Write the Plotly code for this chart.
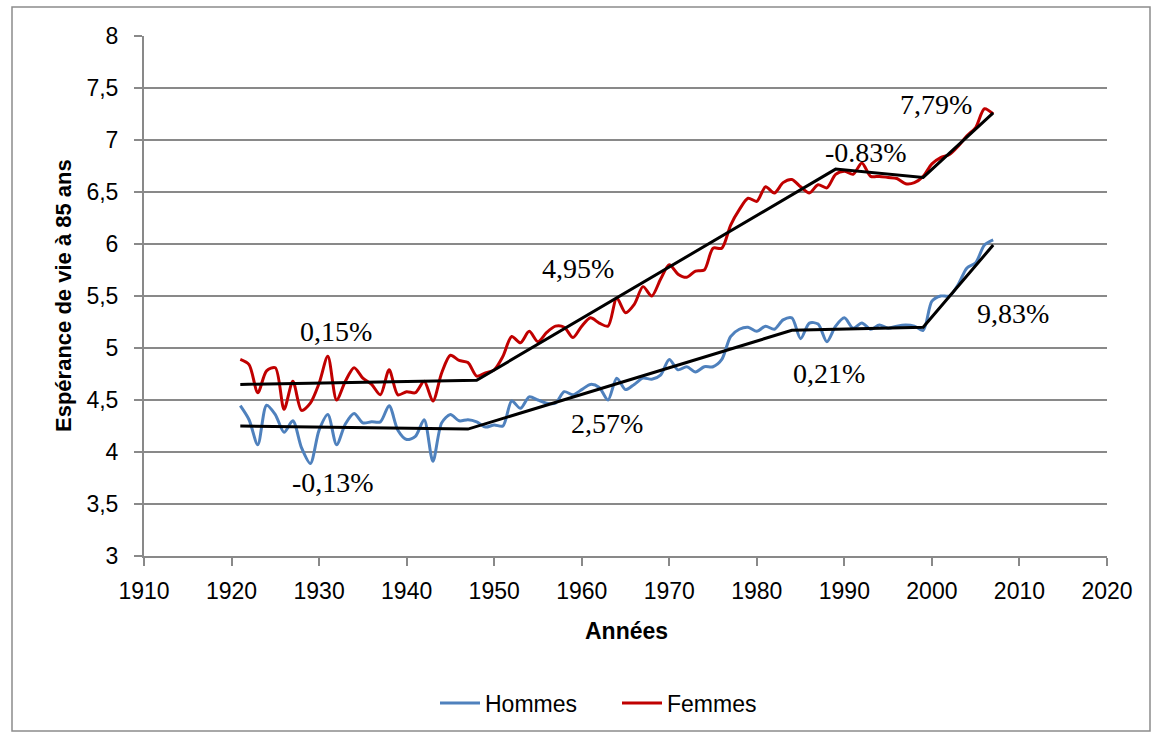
import plotly.graph_objects as go

# ---------------- data ----------------
start_year = 1921
hommes = [4.445, 4.31, 4.07, 4.45, 4.36, 4.19, 4.30, 4.04, 3.89, 4.21,
          4.36, 4.07, 4.27, 4.37, 4.28, 4.29, 4.29, 4.445, 4.21, 4.12,
          4.15, 4.31, 3.91, 4.28, 4.36, 4.30, 4.31, 4.29, 4.24, 4.26,
          4.25, 4.49, 4.42, 4.53, 4.50, 4.47, 4.47, 4.58, 4.55, 4.60,
          4.65, 4.62, 4.50, 4.71, 4.60, 4.65, 4.71, 4.70, 4.74, 4.89,
          4.79, 4.82, 4.77, 4.82, 4.82, 4.89, 5.11, 5.18, 5.20, 5.16,
          5.21, 5.18, 5.27, 5.29, 5.09, 5.24, 5.23, 5.06, 5.21, 5.29,
          5.19, 5.24, 5.18, 5.22, 5.19, 5.21, 5.22, 5.21, 5.17, 5.45,
          5.50, 5.50, 5.61, 5.77, 5.82, 5.99, 6.04]
femmes = [4.89, 4.84, 4.57, 4.78, 4.81, 4.41, 4.68, 4.40, 4.47, 4.66,
          4.92, 4.50, 4.68, 4.81, 4.71, 4.65, 4.55, 4.79, 4.55, 4.58,
          4.57, 4.68, 4.49, 4.76, 4.93, 4.88, 4.86, 4.73, 4.76, 4.79,
          4.92, 5.11, 5.05, 5.16, 5.06, 5.15, 5.21, 5.20, 5.10, 5.21,
          5.29, 5.24, 5.21, 5.48, 5.34, 5.42, 5.59, 5.50, 5.66, 5.80,
          5.71, 5.68, 5.74, 5.75, 5.96, 5.96, 6.18, 6.33, 6.44, 6.41,
          6.55, 6.49, 6.59, 6.62, 6.55, 6.49, 6.57, 6.54, 6.67, 6.70,
          6.67, 6.78, 6.65, 6.65, 6.64, 6.63, 6.58, 6.59, 6.65, 6.77,
          6.83, 6.86, 6.94, 7.04, 7.12, 7.30, 7.25]
years_h = list(range(start_year, start_year + len(hommes)))
years_f = list(range(start_year, start_year + len(femmes)))

trend_years_h = [1921, 1947, 1984, 1999, 2007]
trend_h = [4.25, 4.22, 5.17, 5.20, 5.99]
trend_years_f = [1921, 1948, 1989, 1999, 2007]
trend_f = [4.65, 4.69, 6.72, 6.64, 7.26]

label_text = ["0,15%", "-0,13%", "4,95%", "2,57%", "-0.83%", "7,79%", "0,21%", "9,83%"]
label_x = [1931.9, 1931.6, 1959.6, 1962.9, 1992.5, 2000.5, 1988.2, 2009.3]
label_y = [5.156, 3.703, 5.762, 4.270, 6.879, 7.341, 4.752, 5.329]

x_ticks = [1910, 1920, 1930, 1940, 1950, 1960, 1970, 1980, 1990, 2000, 2010, 2020]
y_ticks = [3, 3.5, 4, 4.5, 5, 5.5, 6, 6.5, 7, 7.5, 8]
y_tick_text = ["3", "3,5", "4", "4,5", "5", "5,5", "6", "6,5", "7", "7,5", "8"]

series_names = ["Hommes", "Femmes"]
x_title = "Années"
y_title = "Espérance de vie à 85 ans"

# ---------------- figure ----------------
W, H = 1162, 738
ML, MR, MT, MB = 144, 55, 36, 182
PW, PH = W - ML - MR, H - MT - MB

def px_x(px):
    return (px - ML) / PW

def px_y(py):
    return (H - MB - py) / PH

SANS = "Liberation Sans, Arial, sans-serif"
SERIF = "Liberation Serif, Times New Roman, serif"
GRID = "#898989"

fig = go.Figure()
fig.add_trace(go.Scatter(x=years_h, y=hommes, mode="lines", name=series_names[0],
                         line=dict(color="#4F81BD", width=3, shape="spline", smoothing=0.8)))
fig.add_trace(go.Scatter(x=years_f, y=femmes, mode="lines", name=series_names[1],
                         line=dict(color="#C00000", width=3, shape="spline", smoothing=0.8)))
fig.add_trace(go.Scatter(x=trend_years_h, y=trend_h, mode="lines", showlegend=False,
                         line=dict(color="black", width=3), hoverinfo="skip"))
fig.add_trace(go.Scatter(x=trend_years_f, y=trend_f, mode="lines", showlegend=False,
                         line=dict(color="black", width=3), hoverinfo="skip"))

for t, x, y in zip(label_text, label_x, label_y):
    fig.add_annotation(x=x, y=y, xref="x", yref="y", text=t, showarrow=False,
                       font=dict(family=SERIF, size=28, color="black"),
                       xanchor="center", yanchor="middle")

# axis titles
fig.add_annotation(x=px_x(626), y=px_y(631), xref="paper", yref="paper", text=f"<b>{x_title}</b>",
                   showarrow=False, font=dict(family=SANS, size=23, color="black"),
                   xanchor="center", yanchor="middle")
fig.add_annotation(x=px_x(63), y=px_y(296), xref="paper", yref="paper", text=f"<b>{y_title}</b>",
                   showarrow=False, textangle=-90, font=dict(family=SANS, size=22, color="black"),
                   xanchor="center", yanchor="middle")

# chart border
fig.add_shape(type="rect", xref="paper", yref="paper",
              x0=px_x(12), x1=px_x(1150), y0=px_y(731), y1=px_y(7),
              line=dict(color="#8c8c8c", width=1.5), fillcolor="rgba(0,0,0,0)", layer="below")

fig.update_layout(
    width=W, height=H,
    margin=dict(l=ML, r=MR, t=MT, b=MB),
    paper_bgcolor="white", plot_bgcolor="white",
    font=dict(family=SANS, size=23, color="black"),
    showlegend=True,
    legend=dict(orientation="h", x=px_x(435), y=px_y(703), xanchor="left", yanchor="middle",
                font=dict(family=SANS, size=23, color="black"), bgcolor="rgba(0,0,0,0)",
                itemwidth=40, entrywidth=127),
    xaxis=dict(range=[1910, 2020], tickvals=x_ticks, ticktext=[str(v) for v in x_ticks],
               showgrid=False, zeroline=False, showline=True, linecolor=GRID, linewidth=2,
               ticks="outside", ticklen=8, tickwidth=2, tickcolor=GRID,
               ticklabelstandoff=5,
               tickfont=dict(family=SANS, size=23, color="black")),
    yaxis=dict(range=[3, 8], tickvals=y_ticks, ticktext=y_tick_text,
               showgrid=True, gridcolor=GRID, gridwidth=1.5, zeroline=False,
               showline=True, linecolor=GRID, linewidth=2,
               ticks="outside", ticklen=8, tickwidth=2, tickcolor=GRID,
               ticklabelstandoff=11,
               tickfont=dict(family=SANS, size=23, color="black")),
)

fig.write_html("out.html", config={"displayModeBar": False},
               post_script="document.body.style.margin='0';")
